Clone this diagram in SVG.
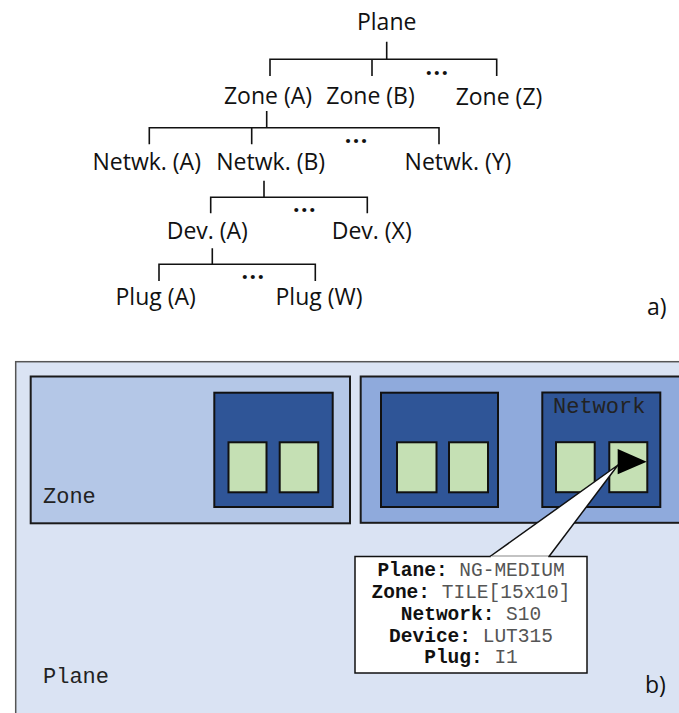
<svg xmlns="http://www.w3.org/2000/svg" width="679" height="713" viewBox="0 0 679 713">
<style>
.t{font-family:"Open Sans","Liberation Sans",sans-serif;font-size:23px;fill:#111;text-anchor:middle}
.dots{font-family:"Open Sans","Liberation Sans",sans-serif;font-size:23px;font-weight:bold;letter-spacing:1.5px;fill:#111;text-anchor:middle}
.ln{stroke:#111;stroke-width:1.6;fill:none}
.mono{font-family:"Liberation Mono","Courier New",monospace;font-size:22px;fill:#222}
.plane{fill:#dae3f3;stroke:#555;stroke-width:1.5}
.zoneA{fill:#b4c7e7;stroke:#1a1a1a;stroke-width:2}
.zoneB{fill:#8faadc;stroke:#1a1a1a;stroke-width:2}
.net{fill:#2f5597;stroke:#111;stroke-width:2}
.plug{fill:#c5e0b4;stroke:#111;stroke-width:2}
.co{font-family:"Liberation Mono","Courier New",monospace;font-size:19.5px;text-anchor:middle;fill:#555}
.k{font-weight:bold;fill:#111}
</style>
<rect width="679" height="713" fill="#ffffff"/>

<!-- a) tree -->
<g id="connectors">
<path class="ln" d="M386.7 41.7V59.3M270 76V59.3H496.7V76M372 59.3V76"/>
<path class="ln" d="M266.7 111V127.7M149.3 144.3V127.7H439V144.3M251.7 127.7V144.3"/>
<path class="ln" d="M264 180.7V197.3M210.7 213.3V197.3H367.3V213.3"/>
<path class="ln" d="M212.3 248.3V264.3M159 281V264.3H315.3V281"/>
</g>
<g id="n-plane"><text class="t" x="386.7" y="30">Plane</text></g>
<g id="n-zoneA"><text class="t" x="268" y="103.5">Zone (A)</text></g>
<g id="n-zoneB"><text class="t" x="370.5" y="104">Zone (B)</text></g>
<g id="n-zoneZ"><text class="t" x="499" y="105">Zone (Z)</text></g>
<g id="n-dots1"><text class="dots" x="437.5" y="75">...</text></g>
<g id="n-netA"><text class="t" x="146.7" y="170">Netwk. (A)</text></g>
<g id="n-netB"><text class="t" x="270.7" y="170">Netwk. (B)</text></g>
<g id="n-netY"><text class="t" x="458" y="170">Netwk. (Y)</text></g>
<g id="n-dots2"><text class="dots" x="356.8" y="142.5">...</text></g>
<g id="n-devA"><text class="t" x="207.3" y="239.3">Dev. (A)</text></g>
<g id="n-devX"><text class="t" x="371.7" y="239.3">Dev. (X)</text></g>
<g id="n-dots3"><text class="dots" x="305.1" y="212">...</text></g>
<g id="n-plugA"><text class="t" x="155.7" y="305">Plug (A)</text></g>
<g id="n-plugW"><text class="t" x="319" y="305">Plug (W)</text></g>
<g id="n-dots4"><text class="dots" x="253.5" y="279">...</text></g>
<g id="label-a"><text class="t" x="647" y="315" style="text-anchor:start">a)</text></g>

<!-- b) nested boxes -->
<g id="b-plane">
<rect class="plane" x="15.7" y="361.7" width="700" height="400"/>
<text class="mono" x="43" y="683">Plane</text>
</g>
<g id="b-zone1">
<rect class="zoneA" x="30.7" y="376.5" width="319.3" height="146.8"/>
<text class="mono" x="43" y="502.7">Zone</text>
</g>
<g id="b-zone2">
<rect class="zoneB" x="360.7" y="376.5" width="330" height="146.3"/>
</g>
<g id="b-net1">
<rect class="net" x="214.3" y="392.7" width="118.4" height="114.3"/>
<rect class="plug" x="228.5" y="442.3" width="38" height="50"/>
<rect class="plug" x="279.7" y="442.3" width="38.5" height="50"/>
</g>
<g id="b-net2">
<rect class="net" x="381" y="392.7" width="117" height="114.3"/>
<rect class="plug" x="397" y="442.3" width="39.5" height="50"/>
<rect class="plug" x="449" y="442.3" width="39" height="50"/>
</g>
<g id="b-net3">
<rect class="net" x="542.3" y="392.5" width="118" height="114.5"/>
<text class="mono" x="553" y="413.3">Network</text>
<rect class="plug" x="556" y="442.2" width="38.7" height="50"/>
<rect class="plug" x="609.3" y="442.2" width="38" height="50"/>
</g>
<g id="b-callout">
<path d="M490 556.5L618 465L549 556.5" fill="#fff" stroke="#111" stroke-width="1.5" stroke-linejoin="miter"/>
<rect x="355" y="556.5" width="232" height="116.5" fill="#fff" stroke="#111" stroke-width="1.5"/>
<path d="M490.8 557.3H548.2" stroke="#fff" stroke-width="2"/>
<polygon points="617.7,449 646.7,461.7 617.7,474.3" fill="#000"/>
<text class="co" x="471" y="576"><tspan class="k">Plane:</tspan> NG-MEDIUM</text>
<text class="co" x="471" y="598"><tspan class="k">Zone:</tspan> TILE[15x10]</text>
<text class="co" x="471" y="620"><tspan class="k">Network:</tspan> S10</text>
<text class="co" x="471" y="641.5"><tspan class="k">Device:</tspan> LUT315</text>
<text class="co" x="471" y="663"><tspan class="k">Plug:</tspan> I1</text>
</g>
<g id="label-b"><text class="t" x="645" y="693" style="text-anchor:start">b)</text></g>
</svg>
